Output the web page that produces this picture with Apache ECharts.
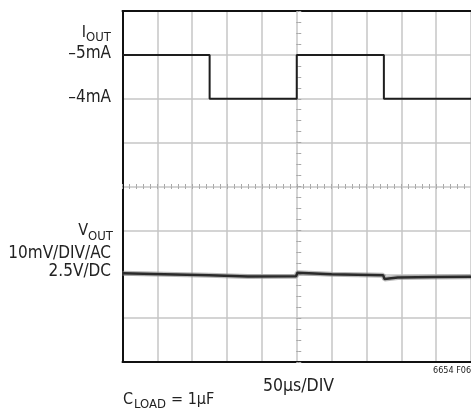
<!DOCTYPE html>
<html>
<head>
<meta charset="utf-8">
<script src="https://cdn.jsdelivr.net/npm/echarts@6/dist/echarts.min.js"></script>
<style>
html,body{margin:0;padding:0;background:#fff;}
#c{width:471px;height:411px;}
</style>
</head>
<body>
<div id="c"></div>
<script>
// Time axis (µs), 50 µs/div, 10 divisions
const timeMin = 0, timeMax = 500, timeDiv = 50, timeMinor = 10;
// I_OUT (mA) – square wave load step
const iTimes  = [0, 125, 125, 250, 250, 375, 375, 500];
const iValues = [-5, -5, -4, -4, -5, -5, -4, -4];
// I_OUT axis (mA, 1 mA/div, inverted)
const iMin = -6, iMax = 2, iDiv = 1;
// V_OUT AC deviation (mV, 10 mV/div)
const vTimes  = [0, 60, 124, 126, 180, 249, 251, 300, 374, 376, 395, 450, 500];
const vValues = [0.2, 0.0, -0.25, -0.6, -0.5, -0.45, 0.35, 0.0, -0.25, -1.1, -0.75, -0.6, -0.55];
const vMin = -20, vMax = 60, vDiv = 10;
// Division scale for centre graticule ticks
const divMin = 0, divMax = 8, divMinor = 0.25;

const FONT = "'Liberation Sans Narrow','DejaVu Sans Condensed','Liberation Sans',sans-serif";
const chart = echarts.init(document.getElementById('c'), null, {renderer: 'canvas'});

const gridCol = '#c6c6c6';
const tickCol = '#a8a8a8';
const GL = 122.5, GT = 11, GR = -4, GB = 49;
const gw = 471 - GL - GR, gh = 411 - GT - GB;

function centerX(inside) {
  return {type: 'value', gridIndex: 0, min: timeMin, max: timeMax, interval: timeMinor,
    position: 'bottom', offset: -gh / 2,
    axisLine: {show: false}, splitLine: {show: false}, axisLabel: {show: false},
    axisTick: {show: true, inside: inside, length: 2.5, lineStyle: {color: tickCol, width: 1}}};
}
function centerY(inside) {
  return {type: 'value', gridIndex: 0, min: divMin, max: divMax, interval: divMinor,
    position: 'left', offset: -gw / 2,
    axisLine: {show: false}, splitLine: {show: false}, axisLabel: {show: false},
    axisTick: {show: true, inside: inside, length: 2.5, lineStyle: {color: tickCol, width: 1}}};
}

const option = {
  animation: false,
  backgroundColor: '#fff',
  grid: {left: GL, top: GT, right: GR, bottom: GB, containLabel: false},
  xAxis: [
    {type: 'value', min: timeMin, max: timeMax, interval: timeDiv, position: 'bottom',
      axisLine: {show: true, onZero: false, lineStyle: {color: '#111', width: 2}},
      axisTick: {show: false}, axisLabel: {show: false},
      splitLine: {show: true, lineStyle: {color: gridCol, width: 1.5}}},
    {type: 'value', min: timeMin, max: timeMax, interval: timeDiv, position: 'top',
      axisLine: {show: true, onZero: false, lineStyle: {color: '#111', width: 2}},
      axisTick: {show: false}, axisLabel: {show: false}, splitLine: {show: false}},
    centerX(true), centerX(false)
  ],
  yAxis: [
    {type: 'value', min: iMin, max: iMax, interval: iDiv, inverse: true, position: 'left',
      axisLine: {show: true, onZero: false, lineStyle: {color: '#111', width: 2}},
      axisTick: {show: false}, axisLabel: {show: false},
      splitLine: {show: true, lineStyle: {color: gridCol, width: 1.5}}},
    {type: 'value', min: vMin, max: vMax, interval: vDiv, position: 'left',
      axisLine: {show: false}, axisTick: {show: false}, axisLabel: {show: false}, splitLine: {show: false}},
    centerY(true), centerY(false)
  ],
  series: [
    {type: 'line', name: 'IOUT', xAxisIndex: 0, yAxisIndex: 0, symbol: 'none',
      data: iTimes.map((t, k) => [t, iValues[k]]),
      lineStyle: {color: '#1e1e1e', width: 2}},
    {type: 'line', name: 'VOUT halo', xAxisIndex: 0, yAxisIndex: 1, symbol: 'none',
      data: vTimes.map((t, k) => [t, vValues[k]]),
      lineStyle: {color: '#8a8a8a', width: 5, opacity: 0.6}},
    {type: 'line', name: 'VOUT', xAxisIndex: 0, yAxisIndex: 1, symbol: 'none',
      data: vTimes.map((t, k) => [t, vValues[k]]),
      lineStyle: {color: '#2a2a2a', width: 2.5}}
  ],
  graphic: [
    {type: 'text', style: {text: 'I', x: 86, y: 33, font: '16px ' + FONT, fill: '#222', textAlign: 'right', textVerticalAlign: 'middle'}},
    {type: 'text', style: {text: 'OUT', x: 86, y: 38, font: '13px ' + FONT, fill: '#222', textAlign: 'left', textVerticalAlign: 'middle'}},
    {type: 'text', style: {text: '–5mA', x: 111, y: 54, font: '17px ' + FONT, fill: '#222', textAlign: 'right', textVerticalAlign: 'middle'}},
    {type: 'text', style: {text: '–4mA', x: 111, y: 98, font: '17px ' + FONT, fill: '#222', textAlign: 'right', textVerticalAlign: 'middle'}},
    {type: 'text', style: {text: 'V', x: 88, y: 231, font: '16px ' + FONT, fill: '#222', textAlign: 'right', textVerticalAlign: 'middle'}},
    {type: 'text', style: {text: 'OUT', x: 88, y: 237, font: '13px ' + FONT, fill: '#222', textAlign: 'left', textVerticalAlign: 'middle'}},
    {type: 'text', style: {text: '10mV/DIV/AC', x: 111, y: 254, font: '17px ' + FONT, fill: '#222', textAlign: 'right', textVerticalAlign: 'middle'}},
    {type: 'text', style: {text: '2.5V/DC', x: 111, y: 272, font: '17px ' + FONT, fill: '#222', textAlign: 'right', textVerticalAlign: 'middle'}},
    {type: 'text', style: {text: 'C', x: 123, y: 400, font: '16px ' + FONT, fill: '#222', textAlign: 'left', textVerticalAlign: 'middle'}},
    {type: 'text', style: {text: 'LOAD', x: 134, y: 405, font: '13px ' + FONT, fill: '#222', textAlign: 'left', textVerticalAlign: 'middle'}},
    {type: 'text', style: {text: '= 1µF', x: 171, y: 400, font: '16px ' + FONT, fill: '#222', textAlign: 'left', textVerticalAlign: 'middle'}},
    {type: 'text', style: {text: '50µs/DIV', x: 263, y: 386, font: '17.5px ' + FONT, fill: '#222', textAlign: 'left', textVerticalAlign: 'middle'}},
    {type: 'text', style: {text: '6654 F06', x: 433, y: 371, font: '9px ' + FONT, fill: '#222', textAlign: 'left', textVerticalAlign: 'middle'}}
  ]
};
chart.setOption(option);
</script>
</body>
</html>
